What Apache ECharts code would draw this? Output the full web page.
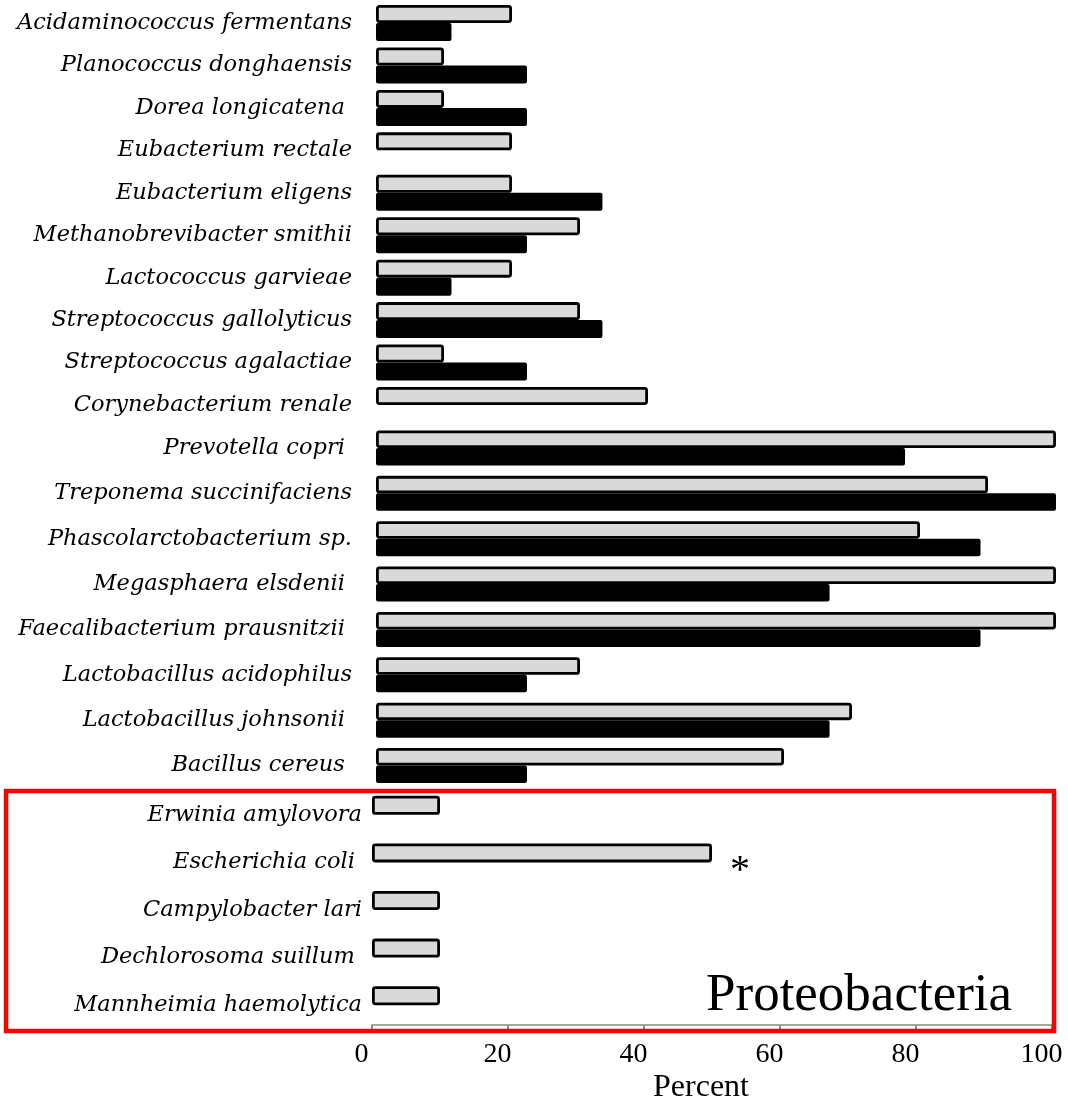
<!DOCTYPE html>
<html>
<head>
<meta charset="utf-8">
<title>Bacterial species detection</title>
<script src="https://cdn.jsdelivr.net/npm/echarts@6/dist/echarts.min.js"></script>
<style>
  html, body { margin: 0; padding: 0; background: #fff; }
  #chart { width: 1068px; height: 1105px; }
</style>
</head>
<body>
<div id="chart"></div>
<script>
// Species, grouped in three blocks (top block, middle block, Proteobacteria)
const speciesTop = [
  'Acidaminococcus fermentans', 'Planococcus donghaensis', 'Dorea longicatena ',
  'Eubacterium rectale', 'Eubacterium eligens', 'Methanobrevibacter smithii',
  'Lactococcus garvieae', 'Streptococcus gallolyticus', 'Streptococcus agalactiae',
  'Corynebacterium renale'
];
const speciesMid = [
  'Prevotella copri ', 'Treponema succinifaciens', 'Phascolarctobacterium sp.',
  'Megasphaera elsdenii ', 'Faecalibacterium prausnitzii ', 'Lactobacillus acidophilus',
  'Lactobacillus johnsonii ', 'Bacillus cereus '
];
const speciesProteo = [
  'Erwinia amylovora', 'Escherichia coli ', 'Campylobacter lari',
  'Dechlorosoma suillum ', 'Mannheimia haemolytica'
];

// Percent of samples (light grey group, black group)
const greyTop = [20, 10, 10, 20, 20, 30, 20, 30, 10, 40];
const blackTop = [11.1, 22.2, 22.2, 0, 33.3, 22.2, 11.1, 33.3, 22.2, 0];
const greyMid = [100, 90, 80, 100, 100, 30, 70, 60];
const blackMid = [77.8, 100, 88.9, 66.7, 88.9, 22.2, 66.7, 22.2];
const greyProteo = [10, 50, 10, 10, 10];
const blackProteo = [0, 0, 0, 0, 0];

// Significant difference marker
const significant = ['Escherichia coli '];

const xTicks = [0, 20, 40, 60, 80, 100];

const GREY = '#d9d9d9';
const labelFont = {
  fontFamily: 'DejaVu Serif', fontStyle: 'italic', fontSize: 22.5, color: '#000'
};

function catAxis(gridIndex, data, margin) {
  return {
    type: 'category', gridIndex, data, inverse: true,
    axisLine: { show: false }, axisTick: { show: false },
    axisLabel: Object.assign({ margin, interval: 0 }, labelFont)
  };
}

function valAxis(gridIndex, visible) {
  return {
    type: 'value', gridIndex, min: xTicks[0], max: xTicks[xTicks.length - 1],
    interval: xTicks[1] - xTicks[0],
    show: visible,
    splitLine: { show: false },
    axisLine: { show: visible, lineStyle: { color: '#a6a6a6', width: 2 } },
    axisTick: { show: visible, length: 4, lineStyle: { color: '#8c8c8c', width: 2 } },
    axisLabel: {
      show: visible, margin: 16, fontFamily: 'Liberation Serif', fontSize: 28,
      color: '#000', padding: [0, 21, 0, 0]
    },
    name: visible ? 'Percent' : '',
    nameLocation: 'middle', nameGap: 47,
    nameTextStyle: {
      fontFamily: 'Liberation Serif', fontSize: 32, color: '#000', padding: [0, 22, 0, 0]
    }
  };
}

function barPair(idx, cats, grey, black, width) {
  return [
    {
      name: 'grey', type: 'bar', xAxisIndex: idx, yAxisIndex: idx,
      barWidth: width, barGap: '0%',
      itemStyle: { color: GREY, borderColor: '#000', borderWidth: 2.8, borderRadius: 2 },
      data: grey.map((v, i) => significant.includes(cats[i]) ? {
        value: v,
        label: {
          show: true, position: 'right', distance: 18, offset: [0, 19],
          formatter: '*', fontFamily: 'Liberation Serif', fontSize: 40, color: '#000'
        }
      } : v)
    },
    {
      name: 'black', type: 'bar', xAxisIndex: idx, yAxisIndex: idx,
      barWidth: width, barGap: '0%',
      itemStyle: { color: '#000', borderRadius: 2 },
      data: black
    }
  ];
}

const chart = echarts.init(document.getElementById('chart'), null, { renderer: 'canvas' });

chart.setOption({
  backgroundColor: '#fff',
  animation: false,
  grid: [
    { left: 376, width: 680, top: 1.8, height: 424.4 },
    { left: 376, width: 680, top: 425.3, height: 362.9 },
    { left: 372, width: 680, top: 791, height: 239 }
  ],
  xAxis: [valAxis(0, false), valAxis(1, false), Object.assign(valAxis(2, true), { offset: -4 })],
  yAxis: [catAxis(0, speciesTop, 24), catAxis(1, speciesMid, 24), catAxis(2, speciesProteo, 10)],
  series: [].concat(
    barPair(0, speciesTop, greyTop, blackTop, 18),
    barPair(1, speciesMid, greyMid, blackMid, 17.5),
    barPair(2, speciesProteo, greyProteo, blackProteo, 19)
  ),
  graphic: [
    {
      type: 'rect', z: 100, silent: true,
      shape: { x: 6, y: 791, width: 1048, height: 240 },
      style: { fill: 'none', stroke: '#ff0000', lineWidth: 4.5 }
    },
    {
      type: 'text', z: 100, silent: true, x: 706, y: 996,
      style: {
        text: 'Proteobacteria', fill: '#000',
        font: '53px "Liberation Serif"', textAlign: 'left', textVerticalAlign: 'middle'
      }
    }
  ]
});
</script>
</body>
</html>
